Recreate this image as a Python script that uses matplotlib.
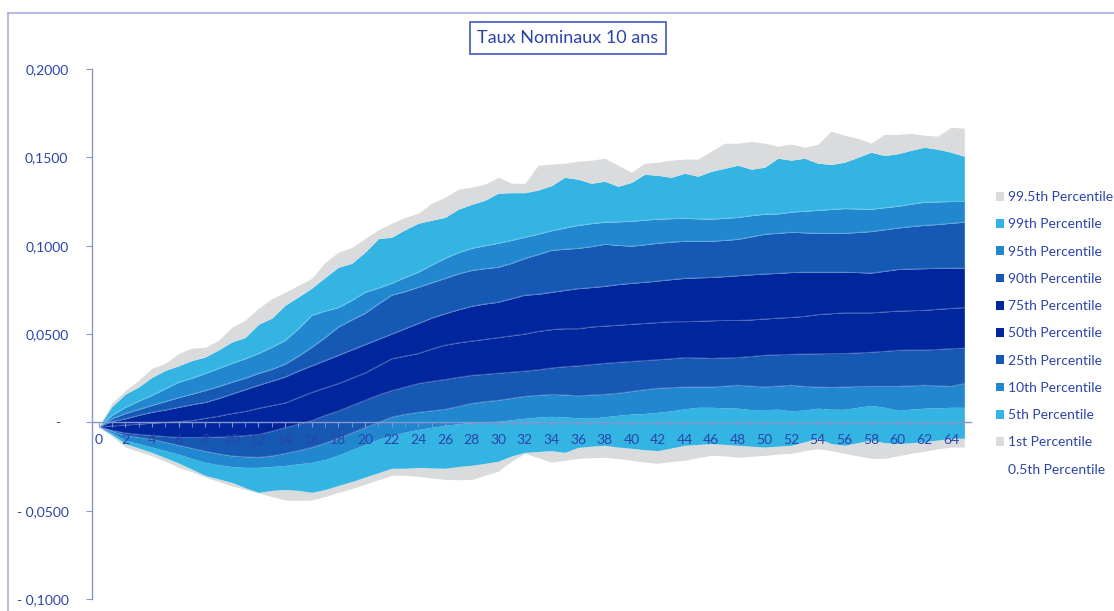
import numpy as np
import matplotlib
matplotlib.use("Agg")
import matplotlib.pyplot as plt
from matplotlib.patches import Patch
from matplotlib.lines import Line2D

plt.rcParams['font.family'] = ['Lato', 'DejaVu Sans']

# horizon (years)
years = list(range(66))

p005 = [-0.0025, -0.008, -0.014, -0.0165, -0.019, -0.022, -0.0255, -0.028, -0.031, -0.0335,
        -0.036, -0.038, -0.040, -0.042, -0.044, -0.0442, -0.044, -0.042, -0.0396, -0.0375,
        -0.035, -0.0325, -0.030, -0.030, -0.0306, -0.0315, -0.0323, -0.0325, -0.0323, -0.030,
        -0.0277, -0.022, -0.0176, -0.020, -0.0226, -0.0215, -0.0204, -0.020, -0.0198, -0.0205,
        -0.0215, -0.0225, -0.0232, -0.0222, -0.0215, -0.020, -0.0187, -0.019, -0.0198, -0.0192,
        -0.0187, -0.018, -0.0176, -0.016, -0.015, -0.016, -0.0176, -0.019, -0.0204, -0.0204,
        -0.019, -0.0175, -0.0164, -0.015, -0.014, -0.014]
p01 = [-0.0025, -0.007, -0.012, -0.0145, -0.017, -0.020, -0.023, -0.0265, -0.030, -0.032,
       -0.034, -0.037, -0.0396, -0.0385, -0.038, -0.0385, -0.0396, -0.038, -0.0357, -0.0335,
       -0.031, -0.0285, -0.026, -0.026, -0.0255, -0.0258, -0.026, -0.025, -0.0243, -0.0232,
       -0.022, -0.019, -0.017, -0.0165, -0.016, -0.017, -0.0142, -0.0135, -0.013, -0.014,
       -0.0147, -0.0155, -0.016, -0.0145, -0.013, -0.0125, -0.012, -0.0125, -0.013, -0.0135,
       -0.014, -0.0135, -0.013, -0.011, -0.009, -0.012, -0.013, -0.0115, -0.010, -0.0115,
       -0.012, -0.0115, -0.011, -0.010, -0.009, -0.009]
p05 = [-0.0025, -0.006, -0.0102, -0.012, -0.014, -0.016, -0.018, -0.0205, -0.0226, -0.024,
       -0.025, -0.0255, -0.0255, -0.025, -0.0244, -0.0235, -0.0226, -0.021, -0.0185, -0.0155,
       -0.0125, -0.0095, -0.0075, -0.0055, -0.004, -0.0028, -0.0017, -0.0008, 0.0, 0.0003,
       0.0006, 0.0015, 0.0023, 0.003, 0.0034, 0.003, 0.0026, 0.0023, 0.0032, 0.004,
       0.0047, 0.005, 0.0057, 0.0065, 0.0077, 0.0085, 0.0085, 0.0082, 0.008, 0.0072,
       0.0072, 0.0074, 0.0065, 0.007, 0.008, 0.0074, 0.0074, 0.0085, 0.0096, 0.0085,
       0.0068, 0.0075, 0.008, 0.0082, 0.0085, 0.0085]
p10 = [-0.0025, -0.005, -0.0074, -0.0085, -0.0096, -0.0113, -0.013, -0.0147, -0.0164, -0.0178,
       -0.019, -0.0195, -0.0198, -0.019, -0.0176, -0.016, -0.0142, -0.0118, -0.009, -0.006,
       -0.003, 0.0, 0.003, 0.0045, 0.0057, 0.0065, 0.0074, 0.009, 0.0107, 0.0117,
       0.0125, 0.0136, 0.0147, 0.0153, 0.0158, 0.0155, 0.015, 0.0155, 0.0158, 0.0165,
       0.0175, 0.0185, 0.0193, 0.0197, 0.020, 0.020, 0.020, 0.0205, 0.021, 0.0205,
       0.020, 0.0205, 0.021, 0.0203, 0.020, 0.0198, 0.020, 0.0203, 0.0204, 0.0204,
       0.0204, 0.0207, 0.021, 0.0207, 0.0204, 0.022]
p25 = [-0.0025, -0.0045, -0.006, -0.0068, -0.0074, -0.008, -0.0085, -0.0085, -0.0085, -0.0083,
       -0.008, -0.0075, -0.0068, -0.005, -0.003, -0.001, 0.001, 0.004, 0.0065, 0.0095,
       0.0125, 0.0155, 0.018, 0.020, 0.022, 0.0232, 0.0243, 0.0255, 0.0266, 0.0272,
       0.0278, 0.0284, 0.029, 0.0298, 0.0308, 0.0315, 0.032, 0.0327, 0.0334, 0.034,
       0.0345, 0.035, 0.0355, 0.036, 0.0367, 0.0365, 0.0362, 0.0365, 0.0367, 0.0373,
       0.038, 0.0383, 0.0385, 0.0387, 0.0388, 0.039, 0.039, 0.0393, 0.0397, 0.0402,
       0.0408, 0.041, 0.041, 0.0413, 0.0417, 0.042]
p50 = [-0.0025, -0.002, -0.0015, -0.001, -0.0005, 0.0, 0.0005, 0.001, 0.0023, 0.0035,
       0.005, 0.0062, 0.008, 0.0095, 0.011, 0.014, 0.017, 0.0195, 0.022, 0.025,
       0.028, 0.032, 0.036, 0.0375, 0.039, 0.0415, 0.0437, 0.045, 0.046, 0.047,
       0.048, 0.049, 0.050, 0.0515, 0.0525, 0.053, 0.053, 0.054, 0.0545, 0.055,
       0.0555, 0.056, 0.0565, 0.057, 0.057, 0.0572, 0.0575, 0.0577, 0.0577, 0.058,
       0.0585, 0.059, 0.0594, 0.060, 0.061, 0.0615, 0.062, 0.062, 0.062, 0.0625,
       0.063, 0.0632, 0.0634, 0.064, 0.0645, 0.065]
p75 = [-0.0025, 0.0005, 0.002, 0.004, 0.0057, 0.007, 0.0085, 0.010, 0.0113, 0.0135,
       0.016, 0.0185, 0.021, 0.0233, 0.0257, 0.029, 0.032, 0.035, 0.038, 0.041,
       0.044, 0.047, 0.050, 0.053, 0.056, 0.059, 0.0615, 0.0637, 0.0657, 0.067,
       0.068, 0.070, 0.072, 0.0725, 0.0736, 0.0747, 0.0757, 0.0763, 0.077, 0.078,
       0.0787, 0.0793, 0.080, 0.0808, 0.0815, 0.0818, 0.082, 0.0825, 0.083, 0.0835,
       0.084, 0.0843, 0.0848, 0.085, 0.085, 0.085, 0.085, 0.0848, 0.0845, 0.0855,
       0.0865, 0.0868, 0.087, 0.0872, 0.0873, 0.0873]
p90 = [-0.0025, 0.002, 0.005, 0.0073, 0.0096, 0.0118, 0.014, 0.016, 0.018, 0.0203,
       0.0227, 0.025, 0.0277, 0.030, 0.033, 0.0375, 0.0425, 0.048, 0.054, 0.058,
       0.0617, 0.067, 0.072, 0.074, 0.0765, 0.079, 0.0815, 0.084, 0.086, 0.087,
       0.0878, 0.090, 0.0928, 0.095, 0.0974, 0.098, 0.0985, 0.0995, 0.1008, 0.1002,
       0.0997, 0.1005, 0.1014, 0.102, 0.1025, 0.1025, 0.1025, 0.103, 0.1036, 0.105,
       0.1065, 0.107, 0.1076, 0.1073, 0.107, 0.107, 0.107, 0.1075, 0.108, 0.109,
       0.110, 0.1108, 0.1115, 0.112, 0.1127, 0.1133]
p95 = [-0.0025, 0.004, 0.0085, 0.012, 0.0153, 0.019, 0.0227, 0.025, 0.0277, 0.0305,
       0.0334, 0.036, 0.039, 0.0425, 0.0464, 0.053, 0.0606, 0.063, 0.065, 0.069,
       0.0736, 0.076, 0.0787, 0.082, 0.085, 0.089, 0.0928, 0.096, 0.0985, 0.100,
       0.1014, 0.103, 0.1048, 0.1065, 0.1085, 0.110, 0.1115, 0.1125, 0.1133, 0.1135,
       0.1138, 0.1145, 0.115, 0.1153, 0.1155, 0.1152, 0.115, 0.1155, 0.116, 0.117,
       0.1178, 0.118, 0.119, 0.1195, 0.120, 0.1205, 0.121, 0.1208, 0.1206, 0.1215,
       0.1223, 0.1235, 0.1246, 0.1248, 0.125, 0.125]
p99 = [-0.0025, 0.009, 0.016, 0.020, 0.0255, 0.0294, 0.032, 0.035, 0.037, 0.041,
       0.0455, 0.048, 0.0555, 0.059, 0.0663, 0.071, 0.076, 0.082, 0.0878, 0.090,
       0.0963, 0.104, 0.1048, 0.109, 0.1127, 0.1144, 0.116, 0.1206, 0.1234, 0.1257,
       0.1297, 0.130, 0.130, 0.1315, 0.134, 0.1387, 0.1376, 0.1353, 0.1365, 0.1336,
       0.1358, 0.1404, 0.1398, 0.1387, 0.141, 0.1393, 0.1421, 0.1438, 0.1455, 0.1433,
       0.1444, 0.1495, 0.1484, 0.1495, 0.1467, 0.146, 0.1472, 0.150, 0.1529, 0.151,
       0.152, 0.154, 0.1557, 0.1546, 0.1529, 0.1506]
p995 = [-0.0025, 0.011, 0.018, 0.0238, 0.0306, 0.0334, 0.039, 0.042, 0.0425, 0.0464,
        0.0538, 0.0578, 0.0646, 0.070, 0.0736, 0.0776, 0.0815, 0.0906, 0.0963, 0.099,
        0.104, 0.109, 0.1127, 0.116, 0.1184, 0.124, 0.1274, 0.132, 0.1331, 0.1348,
        0.1387, 0.1353, 0.1353, 0.1455, 0.1462, 0.1467, 0.1478, 0.1484, 0.1495, 0.1455,
        0.1416, 0.1467, 0.1472, 0.1484, 0.149, 0.149, 0.1535, 0.158, 0.158, 0.159,
        0.158, 0.1563, 0.1575, 0.1557, 0.1574, 0.1648, 0.1625, 0.1608, 0.158, 0.163,
        0.163, 0.1636, 0.1625, 0.162, 0.167, 0.1665]

labels = ['0.5th Percentile', '1st Percentile', '5th Percentile', '10th Percentile',
          '25th Percentile', '50th Percentile', '75th Percentile', '90th Percentile',
          '95th Percentile', '99th Percentile', '99.5th Percentile']
curves = [p005, p01, p05, p10, p25, p50, p75, p90, p95, p99, p995]

grey = '#DADBDD'
light = '#33B4E2'
mid = '#2187CF'
med = '#1559B5'
navy = '#00269E'
colors = [None, grey, light, mid, med, navy, navy, med, mid, light, grey]

axcol = '#8C94CC'
txtcol = '#2A44AC'

fig = plt.figure(figsize=(11.14, 6.11), dpi=100)
ax = fig.add_axes([92 / 1114, 12 / 611, 879 / 1114, 530 / 611])

x = np.array(years)
for i in range(1, len(curves)):
    ax.fill_between(x, curves[i - 1], curves[i], color=colors[i], linewidth=0, zorder=1)
# faint seams between the inner bands
for i in range(3, 9):
    ax.plot(x, curves[i], color='white', lw=0.6, alpha=0.25, zorder=1.1)

ax.set_xlim(-0.5, 65.5)
ax.set_ylim(-0.1, 0.2)

ax.spines['top'].set_visible(False)
ax.spines['right'].set_visible(False)
ax.spines['bottom'].set_position(('data', 0))
ax.spines['left'].set_color(axcol)
ax.spines['bottom'].set_color(axcol)
ax.spines['left'].set_linewidth(1.0)
ax.spines['bottom'].set_linewidth(1.0)

ax.set_xticks(list(range(0, 66, 2)))
ax.set_xticklabels([str(v) for v in range(0, 66, 2)])
ax.set_xticks(years, minor=True)
ax.tick_params(axis='x', which='both', direction='out', length=3.5, color=axcol,
               labelcolor=txtcol, labelsize=10, pad=5)

yt = [-0.1, -0.05, 0, 0.05, 0.1, 0.15, 0.2]
ytl = ['- 0,1000', '- 0,0500', '-  ', '0,0500', '0,1000', '0,1500', '0,2000']
ax.set_yticks(yt)
ax.set_yticklabels(ytl)
ax.tick_params(axis='y', direction='out', length=4.5, color=axcol,
               labelcolor=txtcol, labelsize=10, pad=12.5)

# title box
fig.text(568 / 1114, 1 - 38 / 611, 'Taux Nominaux 10 ans', ha='center', va='center',
         fontsize=13, color=txtcol,
         bbox=dict(boxstyle='square,pad=0.42', fc='white', ec='#3F5BBE', lw=1.2))

# chart area border (cropped)
fig.add_artist(Line2D([8 / 1114, 8 / 1114], [0, 1 - 13 / 611], color='#A9AEDB', lw=1.2))
fig.add_artist(Line2D([8 / 1114, 1], [1 - 13 / 611, 1 - 13 / 611], color='#A9AEDB', lw=1.2))

handles = []
for i in range(len(curves) - 1, -1, -1):
    if colors[i] is None:
        handles.append(Patch(facecolor='none', edgecolor='none', label=labels[i]))
    else:
        handles.append(Patch(facecolor=colors[i], edgecolor='none', label=labels[i]))
leg = fig.legend(handles=handles, loc='upper left', bbox_to_anchor=(996 / 1114, 1 - 191 / 611),
                 frameon=False, fontsize=10, handlelength=0.6, handleheight=0.6,
                 handletextpad=0.3, labelspacing=1.1, borderpad=0, borderaxespad=0)
for t in leg.get_texts():
    t.set_color(txtcol)

fig.savefig('out.png', dpi=100)
